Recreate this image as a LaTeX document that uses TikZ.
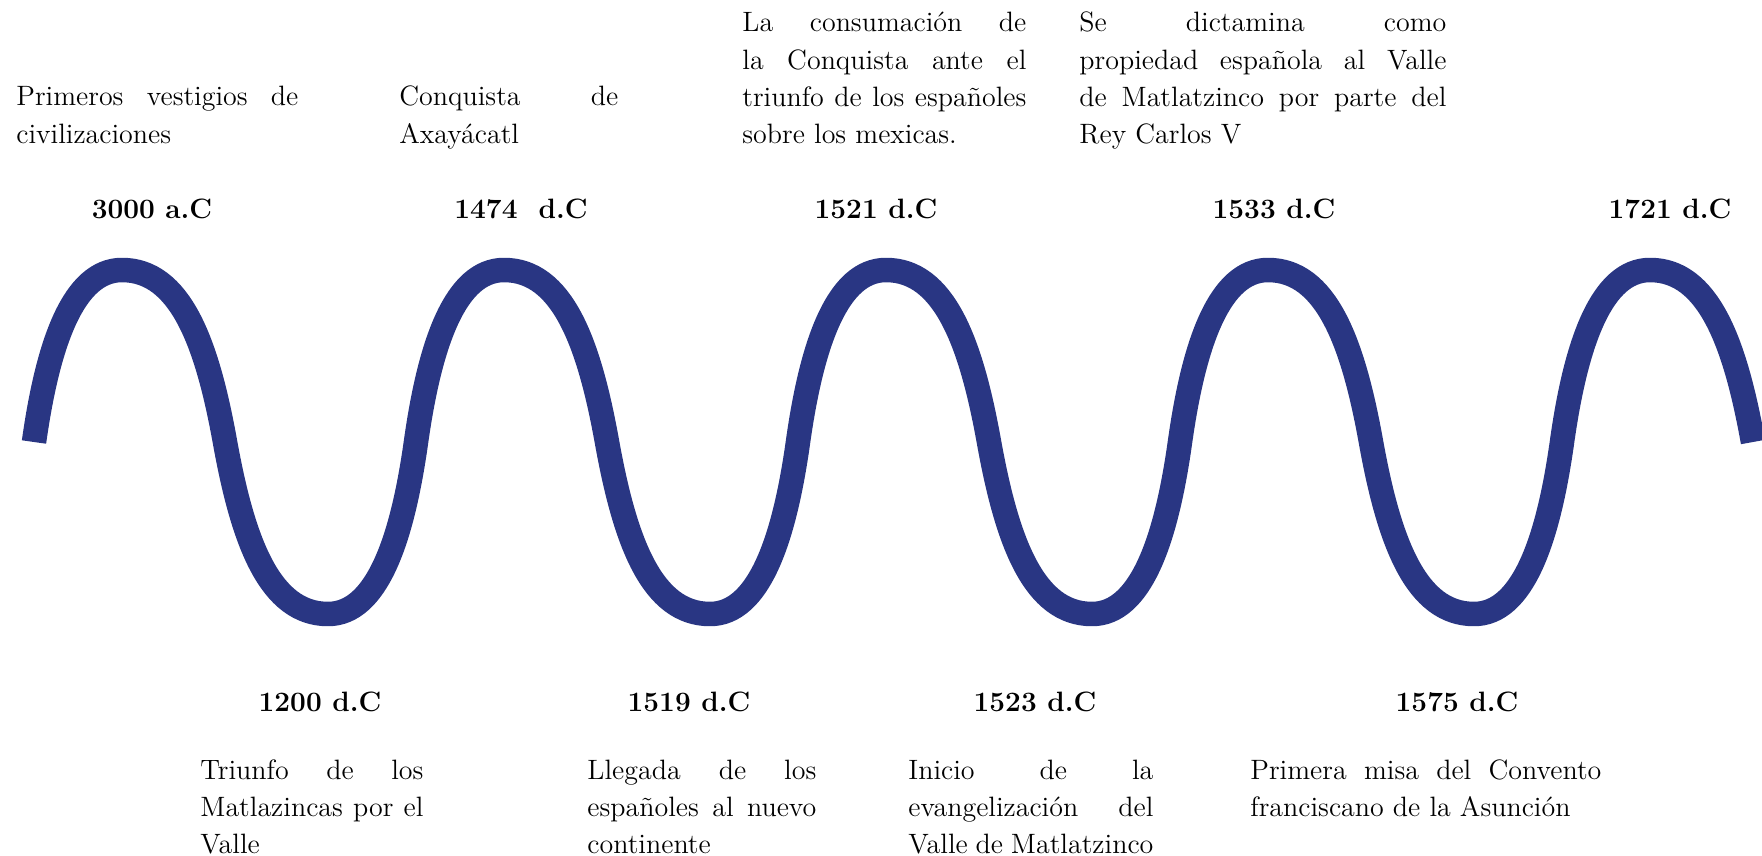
\documentclass[tikz,border=0pt]{standalone}
\usepackage{fontspec}
\definecolor{wavecol}{RGB}{41,54,131}
\newcommand\jline[1]{\makebox[\linewidth][s]{#1}}
\tikzset{
  body/.style={anchor=base west, inner sep=0pt, font=\fontsize{14}{18.6}\selectfont},
  year/.style={anchor=base, inner sep=0pt, font=\fontsize{14}{18.6}\selectfont\bfseries},
  wave/.style={draw=wavecol, line width=12.25pt, line cap=butt, line join=round}
}
\begin{document}
\begin{tikzpicture}[x=0.5pt, y=-0.5pt]
\useasboundingbox (0,0) rectangle (1762,856);
% wave
\draw[wave] (34,442) .. controls (48,342) and (74,270) .. (122,270)
 .. controls (180,270) and (207,342) .. (225,442)
 .. controls (243,542) and (270,614) .. (328,614)
 .. controls (376,614) and (402,542) .. (416,442)
 .. controls (430,342) and (456,270) .. (504,270)
 .. controls (562,270) and (589,342) .. (607,442)
 .. controls (625,542) and (652,614) .. (710,614)
 .. controls (758,614) and (784,542) .. (798,442)
 .. controls (812,342) and (838,270) .. (886,270)
 .. controls (944,270) and (971,342) .. (989,442)
 .. controls (1007,542) and (1034,614) .. (1092,614)
 .. controls (1140,614) and (1166,542) .. (1180,442)
 .. controls (1194,342) and (1220,270) .. (1268,270)
 .. controls (1326,270) and (1353,342) .. (1371,442)
 .. controls (1389,542) and (1416,614) .. (1474,614)
 .. controls (1522,614) and (1548,542) .. (1562,442)
 .. controls (1576,342) and (1602,270) .. (1650,270)
 .. controls (1708,270) and (1735,342) .. (1753,442);
% top texts
\node[body] (t1) at (16,106) {\parbox[t]{141pt}{\jline{Primeros vestigios de}\\civilizaciones}};
\node[body] (t2) at (399,106) {\parbox[t]{109.5pt}{\jline{Conquista de}\\Axayácatl}};
\node[body] (t3) at (742,32) {\parbox[t]{142pt}{\jline{La consumación de}\\\jline{la Conquista ante el}\\\jline{triunfo de los españoles}\\sobre los mexicas.}};
\node[body] (t4) at (1079,32) {\parbox[t]{183.5pt}{\jline{Se dictamina como}\\\jline{propiedad española al Valle}\\\jline{de Matlatzinco por parte del}\\Rey Carlos V}};
% top years
\node[year] (y1) at (152,218) {3000 a.C};
\node[year] (y2) at (521,218) {1474~~d.C};
\node[year] (y3) at (876,218) {1521 d.C};
\node[year] (y4) at (1274,218) {1533 d.C};
\node[year] (y5) at (1670,218) {1721 d.C};
% bottom years
\node[year] (y6) at (320,711) {1200 d.C};
\node[year] (y7) at (689,711) {1519 d.C};
\node[year] (y8) at (1035,711) {1523 d.C};
\node[year] (y9) at (1457,711) {1575 d.C};
% bottom texts
\node[body] (b1) at (200,779) {\parbox[t]{111.5pt}{\jline{Triunfo de los}\\\jline{Matlazincas por el}\\Valle}};
\node[body] (b2) at (587,779) {\parbox[t]{114.5pt}{\jline{Llegada de los}\\\jline{españoles al nuevo}\\continente}};
\node[body] (b3) at (908,779) {\parbox[t]{122.5pt}{\jline{Inicio de la}\\\jline{evangelización del}\\Valle de Matlatzinco}};
\node[body] (b4) at (1250,779) {\parbox[t]{175.5pt}{\jline{Primera misa del Convento}\\franciscano de la Asunción}};
\end{tikzpicture}
\end{document}
